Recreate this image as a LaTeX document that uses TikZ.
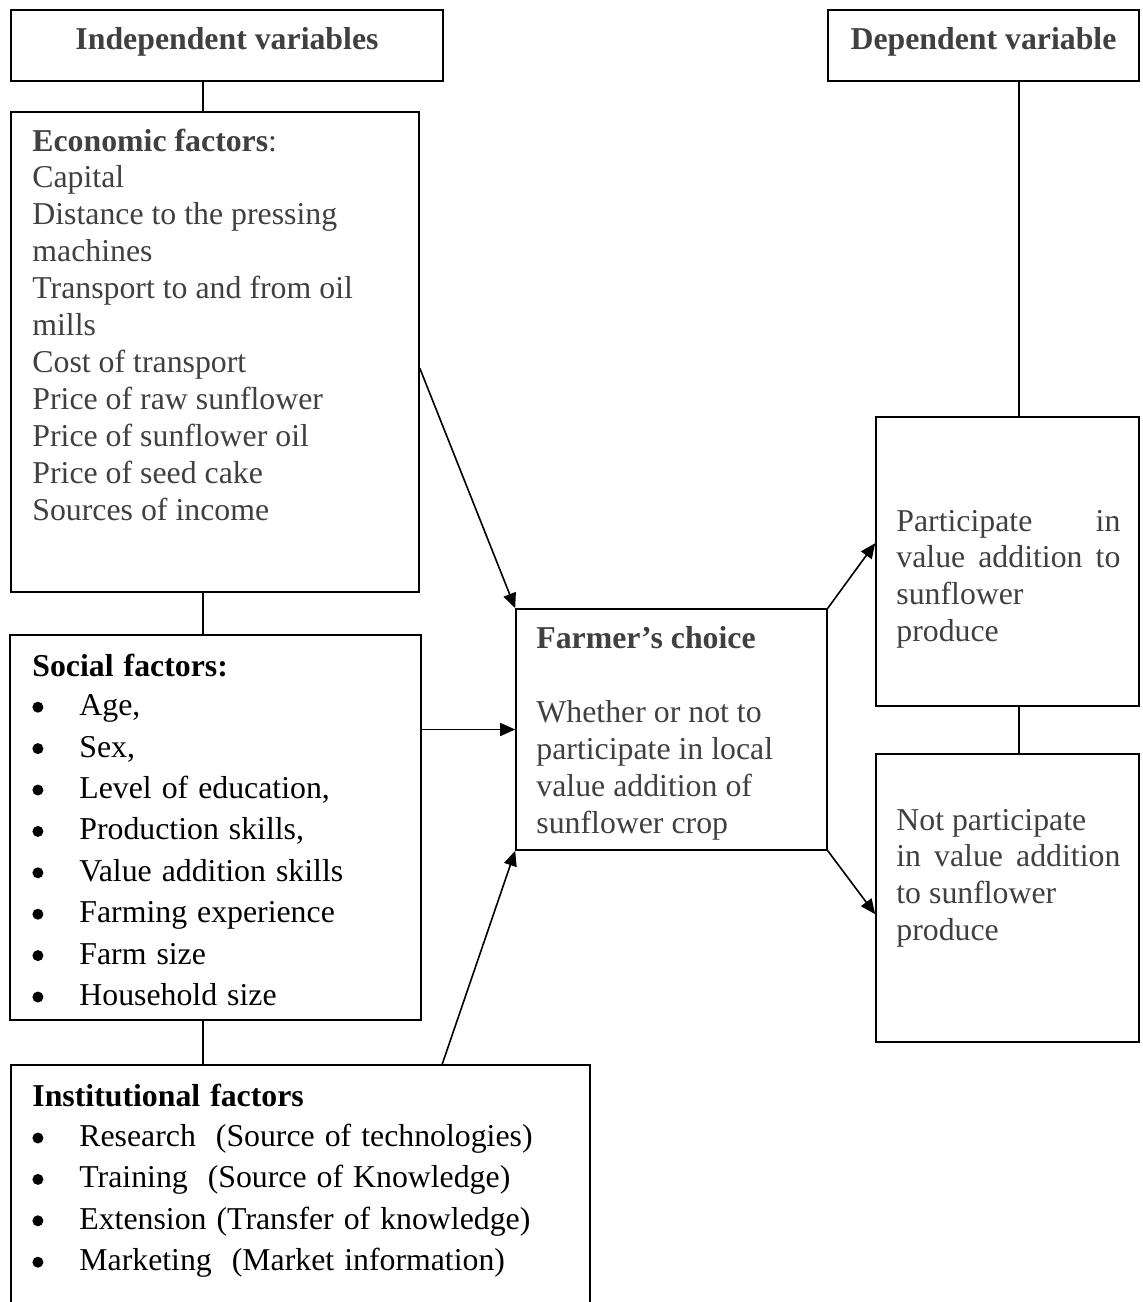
\documentclass[tikz,border=0pt]{standalone}
\usepackage{fontspec}
\setmainfont{Liberation Serif}
\usetikzlibrary{arrows.meta}
\definecolor{txtgray}{RGB}{64,64,64}
\newcommand\blt{\makebox[23.5pt][l]{\raisebox{1.45pt}{\tikz\fill (0,0) circle (2.75pt);}}}
\newcommand\gspace{\spaceskip=4.0pt plus 2pt minus 0.5pt\relax}
\newcommand\bspace{\spaceskip=5.0pt plus 2pt minus 0.5pt\relax}
\begin{document}
\begin{tikzpicture}[x=0.5pt,y=-0.5pt,
  box/.style={draw=black, line width=0.8pt, inner sep=0pt},
  link/.style={draw=black, line width=0.8pt},
  arr/.style={link, -{Triangle[length=7.5pt,width=6.5pt]}},
  head/.style={inner sep=0pt, anchor=base, text=txtgray, font=\fontsize{15.9}{18.45}\selectfont\bfseries},
  para/.style={inner sep=0pt, anchor=base west, align=left, text width=#1},
  gtxt/.style={text=txtgray, font=\fontsize{15.9}{18.45}\selectfont, execute at begin node=\gspace},
  btxt/.style={text=black, font=\fontsize{15.9}{20.7}\selectfont, execute at begin node=\bspace}
]
\useasboundingbox (0,0) rectangle (1143,1302);

% boxes
\node[box, minimum width=216pt, minimum height=35.5pt] (indep) at (227,45.5) {};
\node[box, minimum width=155.5pt, minimum height=35.5pt] (dep) at (983.5,45.5) {};
\node[box, minimum width=204pt, minimum height=240pt] (econ) at (215,352) {};
\node[box, minimum width=205.5pt, minimum height=192.5pt] (social) at (215.5,827.5) {};
\node[box, minimum width=289.5pt, minimum height=132.5pt] (inst) at (300.5,1197.5) {};
\node[box, minimum width=155.5pt, minimum height=120.5pt] (farmer) at (671.5,729.5) {};
\node[box, minimum width=131.5pt, minimum height=144.5pt] (part) at (1007.5,561.5) {};
\node[box, minimum width=131.5pt, minimum height=144pt] (notp) at (1007.5,898) {};

% texts
\node[head] (indepT) at (227,49) {Independent variables};
\node[head] (depT) at (983.5,49) {Dependent variable};

\node[para=190pt, gtxt] (econT) at (32,151) {\textbf{Economic factors}:\\
Capital\\
Distance to the pressing\\
machines\\
Transport to and from oil\\
mills\\
Cost of transport\\
Price of raw sunflower\\
Price of sunflower oil\\
Price of seed cake\\
Sources of income};

\node[para=190pt, btxt] (socialT) at (32,676) {\textbf{Social factors:}\\[-0.9pt]
\blt Age,\\
\blt Sex,\\
\blt Level of education,\\
\blt Production skills,\\
\blt Value addition skills\\
\blt Farming experience\\
\blt Farm size\\
\blt Household size};

\node[para=280pt, btxt] (instT) at (32,1106) {\textbf{Institutional factors}\\[-0.5pt]
\blt Research\ \ (Source of technologies)\\
\blt Training\ \ (Source of Knowledge)\\
\blt Extension (Transfer of knowledge)\\
\blt Marketing\ \ (Market information)};

\node[para=150pt, gtxt] (farmerT) at (536,648) {\textbf{Farmer’s choice}\\[19pt]
Whether or not to\\
participate in local\\
value addition of\\
sunflower crop};

\node[para=112pt, gtxt] (partT) at (896,531) {Participate\hfill in\\
\makebox[\linewidth][s]{value addition to}\\
sunflower\\
produce};

\node[para=112pt, gtxt] (notpT) at (896,830) {Not participate\\
\makebox[\linewidth][s]{in value addition}\\
to sunflower\\
produce};

% connectors
\coordinate (cx) at (203,0);
\coordinate (dx) at (1019,0);
\draw[link] (indep.south -| cx) -- (econ.north -| cx);
\draw[link] (econ.south -| cx) -- (social.north -| cx);
\draw[link] (social.south -| cx) -- (inst.north -| cx);
\draw[link] (dep.south -| dx) -- (part.north -| dx);
\draw[link] (part.south -| dx) -- (notp.north -| dx);

\draw[arr] ([yshift=-128.5pt]econ.north east) -- (farmer.north west);
\draw[arr] (farmer.west -| social.east) -- (farmer.west);
\draw[arr] ([xshift=216pt]inst.north west) -- (farmer.south west);
\draw[arr] (farmer.north east) -- ([yshift=-63.5pt]part.north west);
\draw[arr] (farmer.south east) -- ([yshift=-80.5pt]notp.north west);
\end{tikzpicture}
\end{document}
